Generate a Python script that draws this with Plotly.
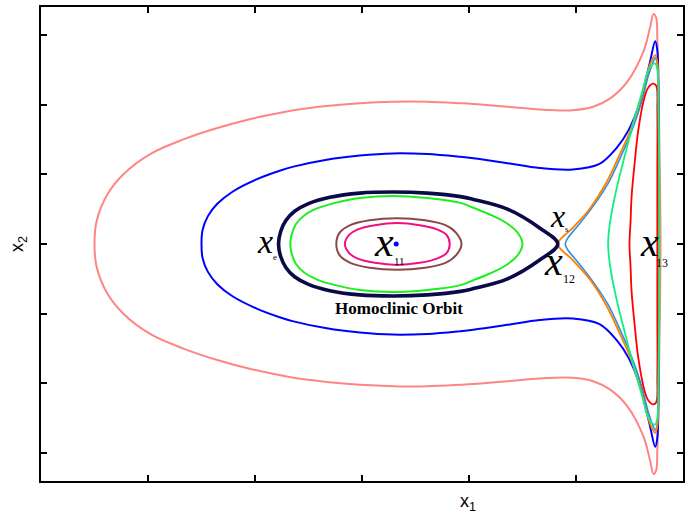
import plotly.graph_objects as go

# Upper halves of each phase-plane orbit (x1, x2); the portrait is symmetric in x2.
outer_x = [0.50, 0.52, 0.62, 0.77, 1.02, 1.33, 1.64, 1.95, 2.23, 2.36, 2.67, 2.98, 3.29, 3.61,
           3.92, 4.04, 4.36, 4.66, 4.97, 5.16, 5.32, 5.48, 5.63, 5.69, 5.725, 5.75, 5.76, 5.77,
           5.78, 5.79]
outer_y = [0.00, 0.33, 0.71, 1.00, 1.29, 1.50, 1.66, 1.79, 1.88, 1.92, 1.98, 2.02, 2.04, 2.04,
           2.02, 2.01, 1.97, 1.93, 1.92, 1.97, 2.09, 2.33, 2.76, 3.09, 3.30, 3.24, 2.95, 2.40,
           1.40, 0.00]

blue_x = [1.50, 1.51, 1.56, 1.65, 1.79, 2.02, 2.23, 2.36, 2.67, 2.98, 3.29, 3.61, 3.92, 4.04,
          4.36, 4.66, 4.97, 5.22, 5.38, 5.49, 5.60, 5.69, 5.74, 5.76, 5.77, 5.775, 5.775]
blue_y = [0.00, 0.20, 0.40, 0.58, 0.75, 0.93, 1.05, 1.11, 1.21, 1.27, 1.30, 1.29, 1.25, 1.23,
          1.16, 1.09, 1.07, 1.15, 1.38, 1.63, 2.04, 2.60, 2.91, 2.78, 2.20, 1.20, 0.00]

homoclinic_x = [4.83, 4.66, 4.36, 4.04, 3.92, 3.61, 3.29, 2.98, 2.70, 2.50, 2.37, 2.29, 2.24, 2.22]
homoclinic_y = [0.00, 0.23, 0.50, 0.64, 0.68, 0.73, 0.745, 0.73, 0.67, 0.58, 0.47, 0.34, 0.18, 0.00]

lime_x = [2.33, 2.34, 2.38, 2.46, 2.58, 2.75, 2.98, 3.29, 3.61, 3.92, 4.04, 4.20, 4.36, 4.46, 4.50]
lime_y = [0.00, 0.12, 0.28, 0.41, 0.51, 0.59, 0.66, 0.69, 0.66, 0.59, 0.52, 0.42, 0.29, 0.15, 0.00]

brown_x = [2.76, 2.79, 2.89, 3.07, 3.33, 3.59, 3.78, 3.88, 3.93]
brown_y = [0.00, 0.16, 0.27, 0.34, 0.37, 0.34, 0.27, 0.16, 0.00]

rose_x = [2.84, 2.88, 2.96, 3.12, 3.33, 3.54, 3.70, 3.79, 3.82]
rose_y = [0.00, 0.13, 0.21, 0.27, 0.30, 0.27, 0.21, 0.13, 0.00]

orange_x = [4.83, 4.97, 5.13, 5.29, 5.41, 5.50, 5.60, 5.69, 5.74, 5.76, 5.77, 5.775, 5.775]
orange_y = [0.00, 0.23, 0.51, 0.90, 1.29, 1.60, 2.05, 2.57, 2.71, 2.61, 2.04, 1.04, 0.00]

sky_x = [4.90, 4.93, 4.99, 5.14, 5.30, 5.42, 5.51, 5.61, 5.67, 5.72, 5.74, 5.76, 5.77, 5.775, 5.775]
sky_y = [0.00, 0.10, 0.21, 0.50, 0.87, 1.26, 1.58, 2.02, 2.38, 2.61, 2.67, 2.58, 2.00, 1.00, 0.00]

spring_x = [5.30, 5.32, 5.38, 5.46, 5.53, 5.62, 5.67, 5.71, 5.74, 5.76, 5.77, 5.78, 5.78]
spring_y = [0.00, 0.33, 0.80, 1.29, 1.71, 2.19, 2.47, 2.57, 2.59, 2.50, 1.90, 0.90, 0.00]

red_x = [5.50, 5.51, 5.52, 5.55, 5.58, 5.63, 5.67, 5.72, 5.75, 5.76, 5.76, 5.76]
red_y = [0.00, 0.33, 0.69, 1.19, 1.61, 2.04, 2.23, 2.30, 2.27, 1.90, 0.90, 0.00]

center_x = [3.32]
center_y = [0.00]


def loop(xs, ys):
    """Join an upper half-orbit with its mirror image below the x1 axis."""
    x = list(xs) + list(xs[::-1][1:])
    y = list(ys) + [-v for v in ys[::-1][1:]]
    return x, y


fig = go.Figure()

curves = [
    (outer_x, outer_y, "#ff8585", 2.0),
    (blue_x, blue_y, "#0000ff", 2.0),
    (sky_x, sky_y, "#2f8fe0", 1.6),
    (orange_x, orange_y, "#ff8000", 1.8),
    (red_x, red_y, "#ff0000", 1.8),
    (spring_x, spring_y, "#12ee80", 1.8),
    (homoclinic_x, homoclinic_y, "#0a0a48", 3.6),
    (lime_x, lime_y, "#1eee1e", 2.0),
    (brown_x, brown_y, "#8c4848", 2.0),
    (rose_x, rose_y, "#f01080", 2.0),
]
for xs, ys, color, width in curves:
    x, y = loop(xs, ys)
    fig.add_trace(go.Scatter(
        x=x, y=y, mode="lines",
        line=dict(color=color, width=width, shape="spline", smoothing=1.0),
        hoverinfo="skip", showlegend=False,
    ))

fig.add_trace(go.Scatter(
    x=center_x, y=center_y, mode="markers",
    marker=dict(color="#0000ff", size=5),
    hoverinfo="skip", showlegend=False,
))

serif = "Liberation Serif, Times New Roman, serif"
labels = [
    # (x, y, text, size)
    (2.09, 0.04, "<i>x</i>", 34),
    (2.19, -0.18, "e", 9),
    (3.21, 0.03, "<i>x</i>", 42),
    (3.35, -0.24, "11", 11),
    (4.83, 0.40, "<i>x</i>", 32),
    (4.92, 0.21, "s", 9),
    (4.79, -0.25, "<i>x</i>", 40),
    (4.93, -0.50, "12", 12),
    (5.69, 0.02, "<i>x</i>", 40),
    (5.80, -0.27, "13", 12),
]
for x, y, text, size in labels:
    fig.add_annotation(x=x, y=y, xref="x", yref="y", text=text, showarrow=False,
                       xanchor="center", yanchor="middle",
                       font=dict(family=serif, size=size, color="black"))

fig.add_annotation(x=3.35, y=-0.93, xref="x", yref="y", text="<b>Homoclinic Orbit</b>",
                   showarrow=False, font=dict(family=serif, size=17, color="black"))

fig.add_annotation(x=0.665, y=-0.045, xref="paper", yref="paper", text="x<sub>1</sub>",
                   showarrow=False, xanchor="center", yanchor="middle",
                   font=dict(family="Liberation Sans, Arial, sans-serif", size=18, color="black"))
fig.add_annotation(x=-0.036, y=0.5, xref="paper", yref="paper", text="x<sub>2</sub>",
                   showarrow=False, textangle=-90, xanchor="center", yanchor="middle",
                   font=dict(family="Liberation Sans, Arial, sans-serif", size=18, color="black"))

axis_common = dict(
    showline=True, linecolor="black", linewidth=2, mirror="ticks",
    ticks="inside", ticklen=6, tickwidth=2, tickcolor="black",
    showticklabels=False, showgrid=False, zeroline=False,
)
fig.update_xaxes(range=[0, 6], tick0=0, dtick=1, **axis_common)
fig.update_yaxes(range=[-3.4, 3.4], tick0=0, dtick=1, **axis_common)

fig.update_layout(
    width=694, height=522,
    margin=dict(l=41, r=11, t=5, b=41),
    paper_bgcolor="white", plot_bgcolor="white",
    showlegend=False,
)

fig.write_html("out.html")
